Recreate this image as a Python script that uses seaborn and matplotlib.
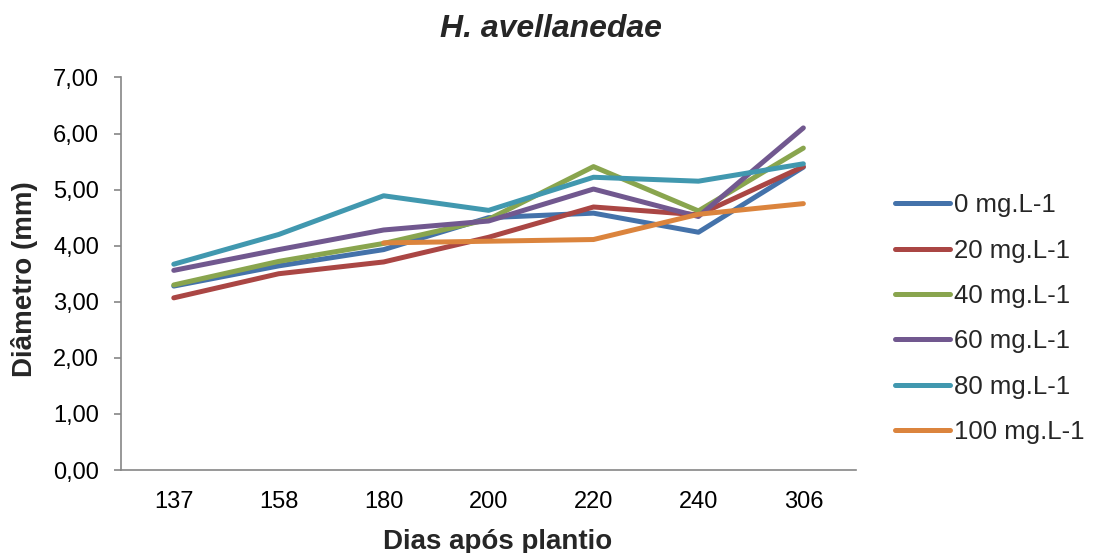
import numpy as np
import pandas as pd
import matplotlib
matplotlib.use("Agg")
import matplotlib.pyplot as plt
from matplotlib.ticker import FuncFormatter
import seaborn as sns

# Days after planting (categorical axis)
days = ["137", "158", "180", "200", "220", "240", "306"]

# Stem diameter (mm) per dose
dose_0 = [3.28, 3.64, 3.93, 4.50, 4.58, 4.24, 5.40]
dose_20 = [3.07, 3.50, 3.71, 4.15, 4.69, 4.55, 5.41]
dose_40 = [3.30, 3.72, 4.04, 4.47, 5.41, 4.62, 5.74]
dose_60 = [3.56, 3.93, 4.28, 4.44, 5.01, 4.52, 6.10]
dose_80 = [3.67, 4.20, 4.89, 4.63, 5.22, 5.15, 5.46]
dose_100 = [np.nan, np.nan, 4.05, 4.08, 4.11, 4.56, 4.75]

labels = ["0 mg.L-1", "20 mg.L-1", "40 mg.L-1", "60 mg.L-1", "80 mg.L-1", "100 mg.L-1"]
series = [dose_0, dose_20, dose_40, dose_60, dose_80, dose_100]
colors = ["#4472AA", "#AA4644", "#89A54E", "#71588F", "#4198AF", "#DB843D"]

df = pd.concat(
    [pd.DataFrame({"dia": days, "diametro": vals, "dose": lab})
     for lab, vals in zip(labels, series)],
    ignore_index=True,
)

sns.set_style("white")
plt.rcParams["font.family"] = ["Liberation Sans", "DejaVu Sans"]

fig = plt.figure(figsize=(10.93, 5.53), dpi=100)
ax = fig.add_axes([0.111, 0.150, 0.672, 0.710])

sns.lineplot(
    data=df, x="dia", y="diametro", hue="dose", hue_order=labels,
    palette=colors, sort=False, linewidth=3.6, ax=ax, legend=False,
    solid_capstyle="round",
)

ax.set_ylim(0, 7)
ax.set_yticks(np.arange(0, 8, 1))
ax.yaxis.set_major_formatter(FuncFormatter(lambda v, p: f"{v:.2f}".replace(".", ",")))
ax.set_xlim(-0.5, len(days) - 0.5)

grey = "#868686"
for side in ["top", "right"]:
    ax.spines[side].set_visible(False)
for side in ["left", "bottom"]:
    ax.spines[side].set_color(grey)
    ax.spines[side].set_linewidth(1.2)

ax.tick_params(axis="y", which="major", left=True, length=5, width=1.2,
               color=grey, pad=11, labelsize=17, labelcolor="black")
ax.tick_params(axis="x", which="major", bottom=False, length=0, pad=15,
               labelsize=17, labelcolor="black")

ax.set_xlabel("Dias após plantio", fontsize=20, fontweight="bold")
ax.xaxis.set_label_coords(0.512, -0.15)
ax.set_ylabel("Diâmetro (mm)", fontsize=20, fontweight="bold")
ax.yaxis.set_label_coords(-0.113, 0.485)

fig.suptitle("H. avellanedae", x=0.504, y=0.933, va="baseline",
             fontsize=23, fontweight="bold", style="italic")

handles = ax.get_lines()[: len(labels)]
leg = fig.legend(
    handles, labels, loc="center left", bbox_to_anchor=(0.798, 0.424),
    frameon=False, fontsize=18.5, handlelength=2.14, handletextpad=0.16,
    labelspacing=0.83,
)
for h in leg.legend_handles:
    h.set_linewidth(3.6)
    h.set_solid_capstyle("round")

fig.savefig("out.png", dpi=100)
